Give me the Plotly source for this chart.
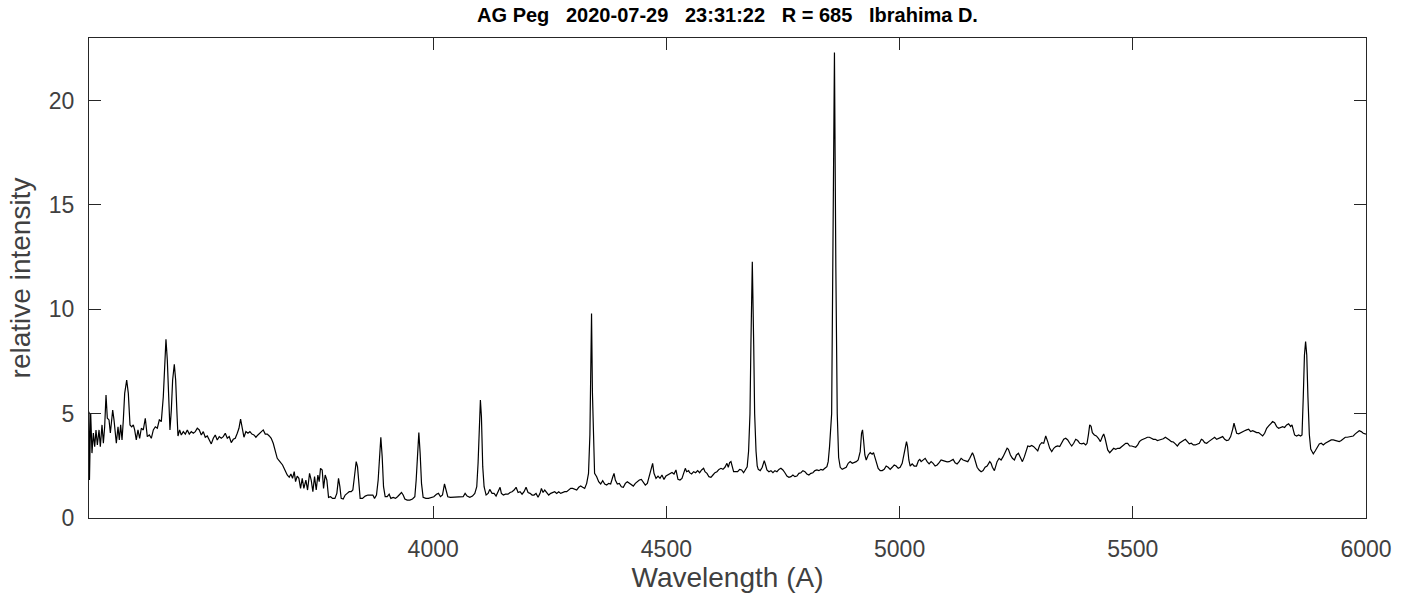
import plotly.graph_objects as go

# Wavelength (Angstrom) and relative intensity
wavelength = [
    3262, 3263, 3265.6, 3268.4, 3271.3, 3274.2, 3277.0, 3279.9, 3283.5, 3286.3, 3289.9, 3292.8, 3295.6, 3298.5,
    3301.3, 3304.9, 3307.8, 3312.8, 3315.6, 3320.6, 3324.2, 3327.0, 3329.9, 3332.8, 3335.6, 3338.5, 3342.8, 3346.3,
    3349.9, 3353.5, 3357.0, 3359.9, 3363.4, 3367.0, 3370.6, 3374.2, 3378.4, 3382.7, 3387.0, 3391.3, 3395.6, 3399.9,
    3404.2, 3408.5, 3412.8, 3417.0, 3421.3, 3424.2, 3427.0, 3429.9, 3432.8, 3435.6, 3438.5, 3441.3, 3444.9, 3447.8,
    3450.6, 3452.8, 3456.3, 3459.9, 3464.2, 3468.5, 3472.8, 3477.0, 3481.3, 3485.6, 3489.9, 3494.2, 3498.5, 3502.8,
    3507.0, 3511.3, 3515.6, 3519.9, 3524.2, 3528.5, 3532.7, 3537.0, 3541.3, 3545.6, 3549.9, 3554.2, 3558.5, 3562.7,
    3567.0, 3571.3, 3575.6, 3579.9, 3583.5, 3587.0, 3590.6, 3594.2, 3598.5, 3602.8, 3607.0, 3611.3, 3615.6, 3619.9,
    3624.2, 3628.5, 3632.7, 3635.6, 3639.9, 3644.2, 3648.5, 3652.7, 3657.0, 3661.3, 3665.6,
    3671.3, 3677.0, 3682.0, 3687.0, 3691.3, 3694.9, 3698.4, 3702.0, 3704.9, 3708.4, 3712.0, 3715.6, 3719.2, 3722.7,
    3727.0, 3730.6, 3734.9, 3738.4, 3742.0, 3745.6, 3749.2, 3752.7, 3755.6, 3758.4, 3762.0, 3764.9, 3768.4, 3772.0,
    3775.6, 3779.9, 3784.2, 3789.2, 3793.4, 3797.0, 3799.9, 3802.7, 3807.0, 3811.3, 3815.6, 3819.9, 3824.2, 3827.7,
    3831.3, 3834.9, 3837.7, 3840.6, 3843.4, 3848.4, 3854.2, 3859.9, 3865.6, 3870.6, 3874.2, 3878.4, 3882.0, 3884.9,
    3887.7, 3890.6, 3893.5, 3897.0, 3901.3, 3905.6, 3909.2, 3914.2, 3919.2, 3923.4, 3927.7, 3932.0, 3935.6, 3939.2,
    3944.2, 3949.9, 3955.6, 3960.6, 3963.5, 3966.3, 3969.2, 3972.0, 3974.9, 3978.4, 3984.2, 3989.9, 3995.6, 4001.3,
    4007.0, 4011.3, 4015.6, 4019.9, 4024.2, 4027.7, 4031.3, 4037.0, 4044.2, 4051.3, 4058.5, 4064.2, 4068.4, 4072.7,
    4078.5, 4084.2, 4089.2,
    4093.4, 4096.2, 4099.1, 4101.2, 4103.4, 4106.2, 4109.1, 4113.4, 4117.7, 4121.2, 4126.2, 4130.5, 4134.8, 4139.1,
    4143.4, 4146.2, 4150.5, 4154.8, 4160.5, 4164.8, 4169.1, 4173.4, 4177.7, 4182.0, 4186.2, 4190.5, 4194.8, 4199.1,
    4203.4, 4207.7, 4212.0, 4216.2, 4220.5, 4224.8, 4229.1, 4232.0, 4235.5, 4239.1, 4243.4, 4247.7, 4252.0, 4256.2,
    4260.5, 4264.8, 4269.1, 4273.4, 4277.7, 4282.0, 4286.2, 4290.5, 4294.8, 4299.1, 4303.4, 4307.7, 4312.0, 4316.2,
    4320.5, 4324.8, 4329.1,
    4333.0, 4336.0, 4337.6, 4339.5, 4341.4, 4343.0, 4346.0,
    4350.5, 4354.8, 4359.1, 4363.4, 4367.7, 4372.0, 4376.2, 4380.5, 4384.8, 4387.7, 4390.5, 4394.8, 4399.1, 4403.4,
    4407.7, 4412.0, 4416.2, 4420.5, 4424.8, 4429.1, 4433.4, 4437.7, 4442.0, 4446.3, 4450.5, 4454.8, 4459.1, 4463.4,
    4467.7, 4470.5, 4473.4, 4477.7, 4482.0, 4486.3, 4490.5, 4494.8, 4499.1, 4503.4, 4507.7, 4512.0, 4516.3, 4520.5,
    4524.8, 4529.1, 4533.4, 4537.7, 4540.5, 4543.4, 4547.7,
    4549.8, 4554.1, 4558.4, 4562.7, 4567.0, 4571.2, 4575.5, 4579.8, 4582.7, 4587.0, 4591.2, 4595.5, 4599.8, 4604.1,
    4608.4, 4612.7, 4617.0, 4621.2, 4625.5, 4629.8, 4632.7, 4635.5, 4638.4, 4641.2, 4644.1, 4648.4, 4652.7, 4657.0,
    4661.2, 4665.5, 4669.8,
    4673.2, 4676.2, 4679.2, 4681.2, 4684.2, 4687.2, 4689.2, 4692.2, 4694.7,
    4697.0, 4701.2, 4705.5, 4709.8, 4712.7, 4715.5, 4719.8, 4724.1, 4728.4, 4732.7, 4737.0, 4741.2, 4745.5, 4749.8,
    4754.1, 4758.4, 4762.7, 4767.0, 4771.2, 4775.5, 4779.8, 4784.1, 4788.4, 4792.7, 4797.0, 4801.2, 4805.5, 4809.8,
    4814.1, 4818.4, 4822.7, 4827.0, 4831.2, 4835.5, 4839.8, 4844.1, 4846.9,
    4849.8, 4854.3, 4857.3, 4860.3, 4863.3, 4866.3, 4869.3,
    4872.7, 4876.9, 4881.2, 4885.5, 4889.8, 4894.1, 4898.4, 4902.7, 4907.0, 4911.2, 4915.5, 4918.4, 4920.5, 4922.7,
    4925.5, 4928.4, 4932.7, 4937.0, 4941.2, 4944.1, 4947.0, 4949.8, 4954.1, 4958.4, 4962.7, 4967.0, 4971.2, 4975.5,
    4979.8, 4984.1, 4988.4, 4992.7, 4997.0, 5001.2, 5005.5, 5009.8, 5012.7, 5014.8, 5017.0, 5019.8, 5022.7, 5027.0,
    5031.2,
    5036.2, 5040.5, 5043.3, 5046.2, 5050.5, 5054.8, 5059.0, 5063.3, 5067.6, 5071.9, 5076.2, 5080.5, 5084.8, 5089.0,
    5093.3, 5097.6, 5101.9, 5106.2, 5110.5, 5114.8, 5119.0, 5123.3, 5127.6, 5131.9, 5136.2, 5140.5, 5146.2, 5150.5,
    5153.3, 5156.2, 5159.0, 5161.9, 5166.2, 5170.5, 5174.8, 5179.0, 5183.3, 5187.6, 5190.5, 5193.3, 5196.2, 5199.0,
    5203.3, 5206.2, 5209.0, 5213.3, 5217.6, 5221.9, 5226.2, 5230.5, 5233.3, 5237.6, 5241.9, 5246.2, 5250.5, 5254.8,
    5259.0, 5263.3, 5267.6, 5271.9, 5274.8, 5279.0, 5283.3, 5287.6, 5291.9, 5296.2, 5300.5, 5304.8, 5309.0, 5313.3,
    5317.6, 5321.9, 5326.2, 5330.5, 5334.8, 5339.0, 5343.3, 5347.6, 5351.9, 5356.2, 5360.5, 5364.8, 5369.0, 5373.3,
    5377.6, 5381.9, 5386.2, 5390.5, 5394.8, 5399.0, 5401.9, 5404.8, 5407.6, 5410.5, 5413.3, 5417.6, 5421.9, 5426.2,
    5430.5, 5434.8, 5437.6, 5440.5, 5443.3, 5446.2, 5450.5, 5454.8, 5459.0, 5463.3, 5467.6, 5471.9, 5476.2, 5480.5,
    5484.8, 5489.0, 5493.3, 5497.6, 5501.9, 5506.2, 5510.5,
    5514.1, 5518.4, 5522.7, 5527.0, 5531.2, 5535.5, 5539.8, 5544.1, 5548.4, 5552.7, 5557.0, 5561.2, 5565.5, 5569.8,
    5574.1, 5578.4, 5582.7, 5587.0, 5591.2, 5595.5, 5599.8, 5604.1, 5608.4, 5612.7, 5617.0, 5621.2, 5625.5, 5629.8,
    5634.1, 5638.4, 5642.7, 5647.0, 5649.8, 5654.1, 5658.4, 5662.7, 5667.0, 5671.2, 5675.5, 5679.8, 5684.1, 5688.4,
    5692.7, 5697.0, 5701.2, 5705.5, 5709.8, 5714.1, 5717.0, 5719.8, 5722.7, 5727.0, 5731.3, 5735.5, 5739.8, 5744.1,
    5748.4, 5752.7, 5757.0, 5761.3, 5765.5, 5769.8, 5774.1, 5778.4, 5782.7, 5787.0, 5791.3, 5795.5, 5799.8, 5804.1,
    5808.4, 5812.7, 5817.0, 5821.3, 5825.5, 5829.8, 5834.1, 5838.4, 5841.3, 5844.1, 5846.9, 5851.2, 5855.5, 5859.8,
    5862.8,
    5865.5, 5868.0, 5870.5, 5873.0, 5875.5, 5878.5, 5881.5, 5887.0,
    5891.3, 5895.5, 5899.8, 5904.1, 5908.4, 5912.7, 5917.0, 5921.3, 5925.5, 5929.8, 5934.1, 5938.4, 5942.7, 5947.0,
    5951.3, 5955.5, 5959.8, 5964.1, 5968.4, 5972.7, 5977.0, 5981.3, 5985.5, 5989.8, 5994.1, 6000.0,
]

intensity = [
    5.09, 1.82, 5.02, 3.11, 4.07, 3.42, 4.22, 3.50, 4.22, 3.42, 4.46, 3.58, 4.37, 5.89,
    4.78, 4.70, 4.07, 5.17, 4.70, 3.58, 4.37, 3.74, 4.46, 3.74, 4.70, 5.97, 6.61, 5.97,
    4.46, 4.37, 4.46, 4.22, 3.74, 4.22, 3.82, 4.30, 4.22, 4.78, 3.90, 3.98, 3.82, 4.22,
    4.37, 4.30, 4.70, 4.62, 5.81, 7.73, 8.56, 7.57, 5.33, 4.22, 5.17, 6.61, 7.36, 6.61,
    5.02, 3.93, 4.22, 3.98, 4.14, 4.02, 4.22, 4.02, 4.14, 4.06, 4.14, 4.30, 4.22, 3.98,
    4.14, 3.87, 3.93, 3.77, 3.55, 3.82, 3.98, 3.74, 3.90, 3.82, 3.90, 4.06, 3.82, 3.90,
    3.61, 3.77, 3.82, 4.06, 4.30, 4.74, 4.22, 3.87, 4.14, 4.06, 4.14, 4.02, 3.98, 3.87,
    3.98, 4.06, 4.14, 4.22, 4.02, 4.02, 3.93, 3.82, 3.58, 3.26, 2.86,
    2.70, 2.54, 2.30, 2.06, 1.95, 2.11, 1.90, 2.22, 1.74, 2.01, 1.90, 1.42, 1.90, 1.42,
    1.82, 1.34, 2.14, 1.82, 1.26, 1.98, 1.34, 2.06, 1.74, 2.38, 2.30, 1.42, 2.06, 1.82,
    0.99, 1.02, 0.94, 0.94, 1.18, 1.90, 1.50, 0.94, 0.91, 1.10, 1.18, 1.26, 1.26, 1.34,
    2.01, 2.70, 2.46, 1.50, 0.94, 0.94, 1.05, 1.10, 1.10, 1.10, 0.94, 1.10, 1.82, 2.94,
    3.87, 2.94, 1.50, 1.02, 1.02, 1.14, 0.94, 0.99, 0.94, 1.02, 1.10, 1.22, 1.10, 0.91,
    0.86, 0.86, 0.91, 1.02, 1.82, 3.10, 4.09, 3.10, 1.66, 0.99, 0.94, 0.94, 0.99, 1.02,
    1.14, 1.18, 1.02, 1.10, 1.63, 1.34, 1.02, 0.99, 0.99, 0.99, 0.99, 1.02, 1.18, 1.05,
    0.99, 1.05, 1.18,
    1.50, 2.62, 4.85, 5.65, 4.85, 2.46, 1.50, 1.10, 1.18, 1.37, 1.18, 1.18, 1.05, 1.26,
    1.47, 1.18, 1.10, 1.14, 1.14, 1.22, 1.26, 1.34, 1.47, 1.22, 1.26, 1.14, 1.26, 1.47,
    1.22, 1.18, 1.10, 1.10, 1.18, 0.99, 1.18, 1.42, 1.22, 1.34, 1.22, 1.10, 1.18, 1.22,
    1.26, 1.18, 1.26, 1.18, 1.22, 1.26, 1.26, 1.34, 1.42, 1.42, 1.37, 1.34, 1.47, 1.53,
    1.47, 1.42, 1.66,
    2.14, 4.00, 6.00, 9.80, 6.00, 4.00, 2.14,
    1.98, 1.74, 1.63, 1.79, 1.63, 1.58, 1.66, 1.63, 1.95, 2.14, 1.82, 1.63, 1.66, 1.50,
    1.47, 1.66, 1.74, 1.66, 1.58, 1.53, 1.66, 1.74, 1.82, 1.85, 1.74, 1.58, 1.66, 2.01,
    2.33, 2.62, 2.14, 1.90, 2.01, 1.90, 2.06, 1.85, 2.01, 2.06, 2.11, 2.18, 2.11, 2.30,
    1.85, 1.82, 1.90, 2.22, 2.38, 2.22, 2.27,
    2.17, 2.11, 2.22, 2.17, 2.27, 2.17, 2.30, 2.38, 2.22, 2.14, 1.98, 1.95, 2.06, 2.17,
    2.22, 2.33, 2.38, 2.33, 2.43, 2.62, 2.43, 2.65, 2.70, 2.43, 2.22, 2.22, 2.22, 2.33,
    2.30, 2.17, 2.30,
    2.45, 3.20, 5.00, 8.30, 12.28, 8.30, 5.00, 3.20, 2.50,
    2.33, 2.27, 2.43, 2.75, 2.54, 2.30, 2.22, 2.27, 2.17, 2.27, 2.22, 2.33, 2.38, 2.30,
    2.17, 2.01, 1.95, 1.98, 2.06, 1.98, 2.01, 2.14, 2.17, 2.27, 2.22, 2.11, 2.06, 2.14,
    2.17, 2.27, 2.30, 2.27, 2.33, 2.30, 2.38, 2.46, 2.70,
    3.42, 5.00, 12.00, 22.30, 12.00, 5.00, 2.90,
    2.43, 2.33, 2.38, 2.43, 2.62, 2.70, 2.62, 2.65, 2.70, 2.78, 3.18, 4.06, 4.22, 3.74,
    3.02, 2.78, 3.02, 3.13, 3.06, 3.13, 2.94, 2.65, 2.38, 2.27, 2.27, 2.33, 2.49, 2.43,
    2.33, 2.43, 2.54, 2.49, 2.38, 2.43, 2.62, 3.10, 3.58, 3.66, 3.42, 2.78, 2.49, 2.59,
    2.49,
    2.49, 2.75, 2.81, 2.70, 2.78, 2.86, 2.70, 2.59, 2.70, 2.62, 2.49, 2.54, 2.65, 2.78,
    2.75, 2.70, 2.69, 2.70, 2.75, 2.81, 2.65, 2.59, 2.70, 2.86, 2.78, 2.75, 2.70, 2.86,
    3.02, 3.13, 2.98, 2.70, 2.43, 2.30, 2.22, 2.27, 2.43, 2.49, 2.59, 2.70, 2.62, 2.43,
    2.27, 2.46, 2.70, 2.86, 2.78, 2.94, 3.18, 3.34, 3.29, 3.02, 2.86, 2.78, 3.02, 3.10,
    2.90, 2.70, 2.94, 3.26, 3.45, 3.42, 3.48, 3.42, 3.34, 3.22, 3.50, 3.61, 3.58, 3.93,
    3.66, 3.34, 3.18, 3.34, 3.42, 3.45, 3.42, 3.61, 3.77, 3.82, 3.74, 3.58, 3.45, 3.58,
    3.77, 3.71, 3.58, 3.55, 3.58, 3.50, 3.58, 3.98, 4.46, 4.39, 4.09, 3.98, 3.93, 3.82,
    3.66, 3.90, 4.03, 3.82, 3.50, 3.26, 3.13, 3.22, 3.34, 3.29, 3.34, 3.34, 3.42, 3.50,
    3.58, 3.58, 3.45, 3.45, 3.42, 3.39, 3.50,
    3.66, 3.74, 3.77, 3.82, 3.87, 3.87, 3.82, 3.77, 3.77, 3.71, 3.74, 3.77, 3.80, 3.87,
    3.82, 3.74, 3.66, 3.64, 3.55, 3.45, 3.58, 3.66, 3.71, 3.77, 3.66, 3.55, 3.58, 3.50,
    3.50, 3.55, 3.58, 3.77, 3.74, 3.61, 3.58, 3.66, 3.74, 3.80, 3.87, 3.77, 3.82, 3.87,
    3.90, 3.77, 3.71, 3.74, 3.90, 4.25, 4.54, 4.30, 4.06, 4.03, 4.09, 4.14, 4.18, 4.22,
    4.25, 4.14, 4.18, 4.14, 4.09, 4.09, 4.03, 3.93, 4.06, 4.30, 4.41, 4.54, 4.62, 4.57,
    4.38, 4.30, 4.34, 4.38, 4.34, 4.46, 4.51, 4.38, 4.46, 4.22, 3.98, 3.93, 3.98, 3.93,
    3.98,
    5.80, 7.80, 8.45, 7.80, 5.80, 4.00, 3.30, 3.07,
    3.22, 3.42, 3.55, 3.58, 3.50, 3.58, 3.64, 3.71, 3.74, 3.74, 3.71, 3.71, 3.66, 3.71,
    3.77, 3.87, 3.87, 3.90, 3.90, 3.93, 4.03, 4.09, 4.18, 4.14, 4.06, 4.02,
]

x_ticks = [4000, 4500, 5000, 5500, 6000]
y_ticks = [0, 5, 10, 15, 20]
title_text = "AG Peg   2020-07-29   23:31:22   R = 685   Ibrahima D."

AX = "#262626"
TXT = "#404040"
FONT = "Liberation Sans, Arial, Helvetica, sans-serif"

fig = go.Figure(
    go.Scatter(
        x=wavelength, y=intensity, mode="lines",
        line=dict(color="black", width=1.2), hoverinfo="skip",
    )
)

fig.update_layout(
    width=1411, height=605,
    margin=dict(l=89, r=45, t=38, b=87),
    paper_bgcolor="white", plot_bgcolor="white",
    showlegend=False,
    title=dict(
        text="<b>" + title_text.replace(" ", "\u00a0") + "</b>",
        x=0.5, xref="paper", xanchor="center",
        y=1 - 15 / 605, yref="container", yanchor="middle",
        font=dict(family=FONT, size=20, color="black"),
    ),
)

fig.update_xaxes(
    range=[3262, 6000], tickvals=x_ticks, ticktext=[str(v) for v in x_ticks],
    ticks="inside", ticklen=12, tickwidth=1, tickcolor=AX,
    showline=True, linecolor=AX, linewidth=1, mirror="ticks",
    showgrid=False, zeroline=False, ticklabelstandoff=10,
    tickfont=dict(family=FONT, size=23, color=TXT),
    title=dict(text="Wavelength (A)", font=dict(family=FONT, size=28, color=TXT), standoff=6),
)
fig.update_yaxes(
    range=[0, 23], tickvals=y_ticks, ticktext=[str(v) for v in y_ticks],
    ticks="inside", ticklen=12, tickwidth=1, tickcolor=AX,
    showline=True, linecolor=AX, linewidth=1, mirror="ticks",
    showgrid=False, zeroline=False, ticklabelstandoff=9,
    tickfont=dict(family=FONT, size=23, color=TXT),
    title=dict(text="relative intensity", font=dict(family=FONT, size=28, color=TXT), standoff=10),
)

fig.write_html("out.html")
